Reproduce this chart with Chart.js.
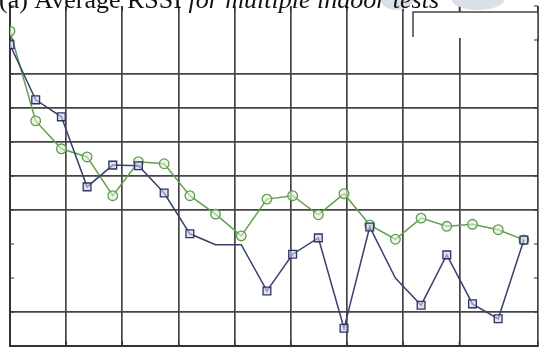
<!DOCTYPE html>
<html>
<head>
<meta charset="utf-8">
<script src="https://cdn.jsdelivr.net/npm/chart.js@4.4.0/dist/chart.umd.min.js"></script>
<style>
  html, body { margin: 0; padding: 0; background: #fff; }
  #wrap { position: relative; width: 540px; height: 347px; }
</style>
</head>
<body>
<div id="wrap"><canvas id="rssiChart"></canvas></div>
<script>
'use strict';

// test index along the x axis
const testNumbers = [1, 2, 3, 4, 5, 6, 7, 8, 9, 10, 11, 12, 13, 14, 15, 16, 17, 18, 19, 20, 21];

// average RSSI (dBm)
const rssiSquares = [-45.7, -53.8, -56.3, -66.6, -63.4, -63.5, -67.5, -73.5, -75.1, -75.1, -81.9,
                     -76.5, -74.1, -87.4, -72.5, -80.0, -84.0, -76.6, -83.8, -86.0, -74.4];
const rssiCircles = [-43.7, -56.9, -61.0, -62.2, -67.9, -62.9, -63.2, -67.9, -70.6, -73.8, -68.4,
                     -67.9, -70.7, -67.6, -72.2, -74.3, -71.2, -72.4, -72.1, -72.9, -74.4];
// points on the square series that carry no marker in the scan
const unmarkedSquares = [8, 9, 15];

// y ticks every 5 dB; only some of them have a full grid line in the original
const yMin = -90, yMax = -40, yStep = 5;
const gridRows = [-50, -55, -60, -65, -70, -85];

const TITLE_A = '(a) Average RSSI ';
const TITLE_B = 'for multiple indoor tests';

// scan decorations: title, grey smudge, clipped legend frame, inward tick marks
const scanDecor = {
    id: 'scanDecor',
    afterDraw(chart) {
        const ctx = chart.ctx;
        const area = chart.chartArea;
        ctx.save();

        // inward tick marks
        ctx.strokeStyle = '#333';
        ctx.lineWidth = 1.2;
        chart.scales.y.ticks.forEach(t => {
            const py = chart.scales.y.getPixelForValue(t.value);
            ctx.beginPath();
            ctx.moveTo(area.left, py); ctx.lineTo(area.left + 4, py);
            ctx.moveTo(area.right - 4, py); ctx.lineTo(area.right, py);
            ctx.stroke();
        });
        chart.scales.grid.ticks.forEach(t => {
            const px = chart.scales.grid.getPixelForValue(t.value);
            ctx.beginPath();
            ctx.moveTo(px, area.top); ctx.lineTo(px, area.top + 5);
            ctx.moveTo(px, area.bottom - 5); ctx.lineTo(px, area.bottom);
            ctx.stroke();
        });

        // legend frame, mostly cut off
        const lx = area.right - 125, ly = 12;
        ctx.fillStyle = '#fff';
        ctx.fillRect(lx, ly, area.right - lx, 26);
        ctx.strokeStyle = '#444';
        ctx.lineWidth = 1.5;
        ctx.beginPath();
        ctx.moveTo(lx, ly + 25); ctx.lineTo(lx, ly); ctx.lineTo(area.right, ly); ctx.lineTo(area.right, ly + 30);
        ctx.stroke();

        // grey smudge at the top
        ctx.fillStyle = 'rgba(212, 219, 227, 0.85)';
        ctx.beginPath();
        ctx.ellipse(397, 0, 16, 10, 0, 0, Math.PI * 2);
        ctx.fill();
        ctx.beginPath();
        ctx.ellipse(478, 0, 26, 10, 0, 0, Math.PI * 2);
        ctx.fill();

        // title, top half cropped away
        ctx.fillStyle = '#111';
        ctx.textBaseline = 'alphabetic';
        ctx.font = '26px "Liberation Serif", "DejaVu Serif", serif';
        ctx.fillText(TITLE_A, -1, 8);
        const wA = ctx.measureText(TITLE_A).width;
        ctx.font = 'italic 26px "Liberation Serif", "DejaVu Serif", serif';
        ctx.fillText(TITLE_B, -1 + wA, 8);

        ctx.restore();
    }
};

const ctx = document.getElementById('rssiChart').getContext('2d');
new Chart(ctx, {
    type: 'line',
    data: {
        labels: testNumbers,
        datasets: [{
            data: rssiSquares,
            xAxisID: 'x',
            borderColor: '#3b3f6c',
            borderWidth: 1.5,
            pointStyle: 'rect',
            pointRadius: c => unmarkedSquares.includes(c.dataIndex) ? 0 : 5.5,
            pointBackgroundColor: 'rgba(200, 205, 230, 0.6)',
            pointBorderColor: '#2f3466',
            pointBorderWidth: 1.3,
            tension: 0
        }, {
            data: rssiCircles,
            xAxisID: 'x',
            borderColor: '#62a052',
            borderWidth: 1.5,
            pointStyle: 'circle',
            pointRadius: 4.8,
            pointBackgroundColor: 'rgba(225, 240, 215, 0.6)',
            pointBorderColor: '#5f9c4e',
            pointBorderWidth: 1.3,
            tension: 0
        }]
    },
    options: {
        responsive: true,
        maintainAspectRatio: false,
        animation: false,
        layout: { autoPadding: false, padding: { left: 10, right: 2, top: 6, bottom: 1 } },
        plugins: {
            legend: { display: false },
            tooltip: { enabled: false },
            title: { display: false }
        },
        scales: {
            x: {
                type: 'linear',
                display: false,
                min: 1,
                max: 21.55
            },
            grid: {
                type: 'linear',
                axis: 'x',
                position: 'bottom',
                min: 0,
                max: 9.4,
                ticks: { display: false, stepSize: 1 },
                grid: { color: '#444', lineWidth: 1.7, drawTicks: false },
                border: { display: true, color: '#333', width: 2 }
            },
            y: {
                type: 'linear',
                min: yMin,
                max: yMax,
                ticks: { display: false, stepSize: yStep },
                grid: {
                    color: c => (c.tick && gridRows.includes(c.tick.value)) ? '#444' : 'rgba(0,0,0,0)',
                    lineWidth: 1.7,
                    drawTicks: false
                },
                border: { display: true, color: '#333', width: 2 }
            }
        }
    },
    plugins: [scanDecor]
});
</script>
</body>
</html>
